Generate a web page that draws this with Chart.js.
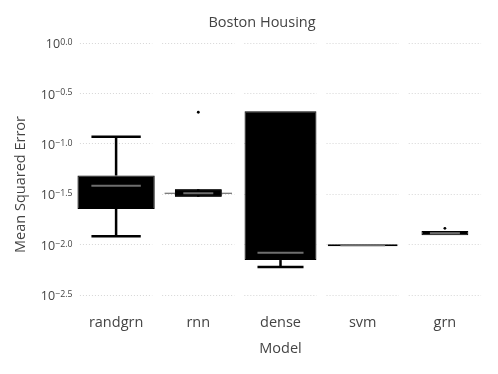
<!DOCTYPE html>
<html>
<head>
<meta charset="utf-8">
<script src="https://cdn.jsdelivr.net/npm/chart.js@4/dist/chart.umd.min.js"></script>
<style>
  html, body { margin: 0; padding: 0; background: #fff; }
  #wrap { width: 498px; height: 374px; }
</style>
</head>
<body>
<div id="wrap"><canvas id="boxChart" width="498" height="374"></canvas></div>
<script>
// Boston Housing - MSE per model
const models = ['randgrn', 'rnn', 'dense', 'svm', 'grn'];
const whiskerLow  = [0.0120, 0.0321, 0.00596, 0.00955, 0.01228];
const q1          = [0.0224, 0.0297, 0.00698, 0.00955, 0.01228];
const medians     = [0.0381, 0.0321, 0.00826, 0.00977, 0.0129];
const q3          = [0.0480, 0.0351, 0.209,   0.0100,  0.01355];
const whiskerHigh = [0.1167, 0.0321, 0.209,   0.0100,  0.01355];
const outliers    = [[], [0.204], [], [], [0.01442]];
const yTickExps   = [0, -0.5, -1, -1.5, -2, -2.5];

// styling per box (fraction of category width)
const boxWidths = [0.94, 0.57, 0.875, 0.85, 0.57];
const capWidths = [0.60, 0.82, 0.56, 0.56, 0.40];

const textColor = '#444';
const fontFamily = '"Open Sans", sans-serif';

const datasets = models.map((m, i) => ({
    label: m,
    data: models.map((_, j) => j === i ? [q1[i], q3[i]] : null),
    backgroundColor: '#000',
    borderColor: '#000',
    borderWidth: 1,
    borderSkipped: false,
    grouped: false,
    categoryPercentage: 1,
    barPercentage: boxWidths[i]
}));

const boxPlugin = {
    id: 'boxExtras',
    beforeDatasetsDraw(chart) {
        const ctx = chart.ctx;
        const x = chart.scales.x;
        const y = chart.scales.y;
        const catW = (x.right - x.left) / models.length;
        ctx.save();
        ctx.strokeStyle = '#d6d6d6';
        ctx.lineWidth = 1;
        ctx.setLineDash([1, 2]);
        models.forEach((m, i) => {
            const cx = x.getPixelForValue(i);
            yTickExps.forEach(e => {
                const py = Math.round(y.getPixelForValue(Math.pow(10, e))) + 0.5;
                ctx.beginPath();
                ctx.moveTo(cx - catW * 0.44, py);
                ctx.lineTo(cx + catW * 0.44, py);
                ctx.stroke();
            });
        });
        ctx.restore();
    },
    afterDatasetsDraw(chart) {
        const ctx = chart.ctx;
        const x = chart.scales.x;
        const y = chart.scales.y;
        const catW = (x.right - x.left) / models.length;
        ctx.save();
        models.forEach((m, i) => {
            const bar = chart.getDatasetMeta(i).data[i];
            const cx = bar.x;
            const capHalf = catW * capWidths[i] / 2;
            const yLo = y.getPixelForValue(whiskerLow[i]);
            const yHi = y.getPixelForValue(whiskerHigh[i]);
            const yQ1 = y.getPixelForValue(q1[i]);
            const yQ3 = y.getPixelForValue(q3[i]);
            ctx.strokeStyle = '#000';
            ctx.lineWidth = 2.5;
            ctx.beginPath();
            ctx.moveTo(cx, yQ3); ctx.lineTo(cx, yHi);
            ctx.moveTo(cx, yQ1); ctx.lineTo(cx, yLo);
            ctx.stroke();
            ctx.lineWidth = i === 1 ? 1.2 : 2.5;
            ctx.strokeStyle = i === 1 ? '#555' : '#000';
            ctx.beginPath();
            if (whiskerHigh[i] !== q3[i]) {
                ctx.moveTo(cx - capHalf, yHi); ctx.lineTo(cx + capHalf, yHi);
            }
            if (whiskerLow[i] !== q1[i]) {
                ctx.moveTo(cx - capHalf, yLo); ctx.lineTo(cx + capHalf, yLo);
            }
            ctx.stroke();
            // redraw box over the rnn cap line
            if (i === 1) bar.draw(ctx);
            const ym = y.getPixelForValue(medians[i]);
            const mHalf = bar.width * 0.32;
            ctx.strokeStyle = '#6e6e6e';
            ctx.lineWidth = 2;
            ctx.beginPath();
            ctx.moveTo(cx - mHalf, ym); ctx.lineTo(cx + mHalf, ym);
            ctx.stroke();
            ctx.fillStyle = '#000';
            outliers[i].forEach(v => {
                ctx.beginPath();
                ctx.arc(cx, y.getPixelForValue(v), 1.4, 0, Math.PI * 2);
                ctx.fill();
            });
        });
        ctx.restore();
    },
    afterDraw(chart) {
        const ctx = chart.ctx;
        const y = chart.scales.y;
        ctx.save();
        ctx.fillStyle = textColor;
        // y tick labels: 10 with superscript exponent
        yTickExps.forEach(e => {
            const py = y.getPixelForValue(Math.pow(10, e));
            const sup = (e < 0 ? '\u2212' : '') + Math.abs(e).toFixed(1);
            ctx.font = '8.8px ' + fontFamily;
            const supW = ctx.measureText(sup).width;
            ctx.font = '12.5px ' + fontFamily;
            const baseW = ctx.measureText('10').width;
            const right = 72.5;
            ctx.textAlign = 'left';
            ctx.textBaseline = 'alphabetic';
            ctx.fillText('10', right - supW - baseW, py + 5.6);
            ctx.font = '8.8px ' + fontFamily;
            ctx.fillText(sup, right - supW, py + 2.3);
        });
        // chart title
        ctx.font = '14.5px ' + fontFamily;
        ctx.textAlign = 'center';
        ctx.textBaseline = 'alphabetic';
        ctx.fillText('Boston Housing', 262, 26.5);
        // y axis title
        ctx.translate(25, 184.5);
        ctx.rotate(-Math.PI / 2);
        ctx.fillText('Mean Squared Error', 0, 0);
        ctx.restore();
    }
};

const ctx = document.getElementById('boxChart').getContext('2d');
new Chart(ctx, {
    type: 'bar',
    data: {
        labels: models,
        datasets: datasets
    },
    options: {
        responsive: false,
        animation: false,
        layout: { padding: { top: 35, right: 12, left: 0, bottom: 0 } },
        plugins: {
            legend: { display: false },
            tooltip: { enabled: false }
        },
        scales: {
            x: {
                grid: { display: false, drawTicks: false },
                border: { display: false },
                ticks: {
                    color: textColor,
                    font: { family: fontFamily, size: 14.5 },
                    padding: 9
                },
                title: {
                    display: true,
                    text: 'Model',
                    color: textColor,
                    font: { family: fontFamily, size: 14.5 },
                    padding: { top: 0, bottom: 16 }
                },
                afterFit: s => { s.height = 69; }
            },
            y: {
                type: 'logarithmic',
                min: Math.pow(10, -2.602),
                max: Math.pow(10, 0.076),
                grid: { display: false },
                border: { display: false },
                ticks: { display: false },
                afterFit: s => { s.width = 75; }
            }
        }
    },
    plugins: [boxPlugin]
});
</script>
</body>
</html>
